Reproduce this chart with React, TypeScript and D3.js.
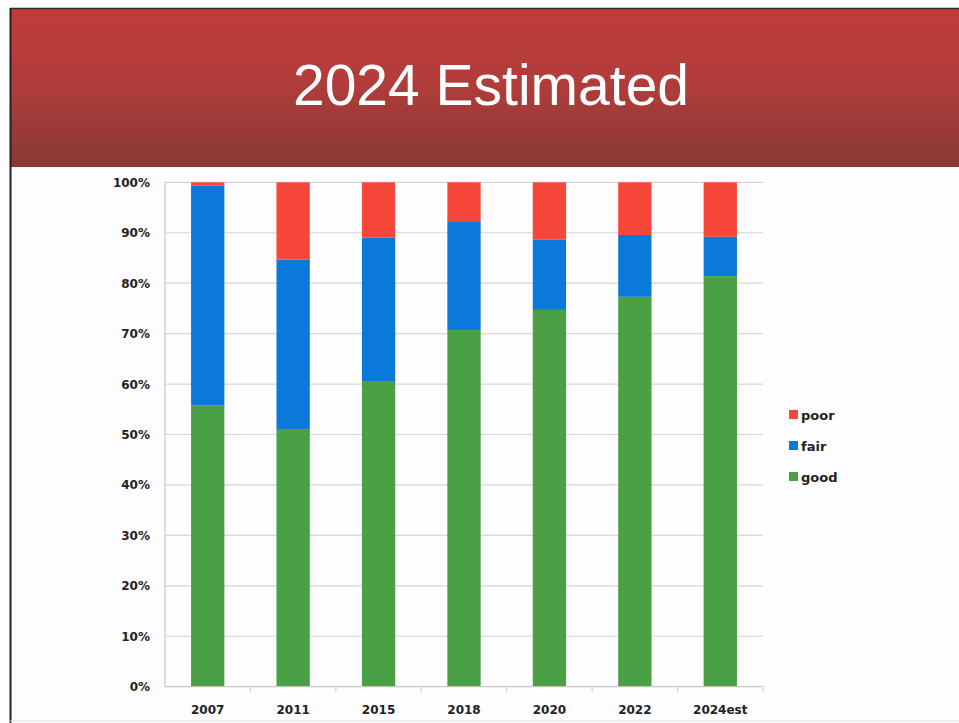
import React, { useEffect, useRef } from "react";
import * as d3 from "d3";

// chart values
const years = ["2007", "2011", "2015", "2018", "2020", "2022", "2024est"];
const good = [55.8, 51.1, 60.6, 70.7, 74.7, 77.3, 81.4];
const fair = [43.5, 33.6, 28.4, 21.6, 13.9, 12.25, 7.8];
const poor = [0.7, 15.3, 11.0, 7.7, 11.4, 10.45, 10.8];
const yTicks = [0, 10, 20, 30, 40, 50, 60, 70, 80, 90, 100];
const seriesNames = ["good", "fair", "poor"];
const legendOrder = ["poor", "fair", "good"];

const colors: Record<string, string> = {
  good: "#4aa042",
  fair: "#0a79d9",
  poor: "#f7473a",
};

export default function App() {
  const ref = useRef<SVGSVGElement>(null);

  useEffect(() => {
    const svg = d3.select(ref.current);
    svg.selectAll("*").remove();

    const width = 959;
    const height = 723;
    const left = 165;
    const right = 763;
    const top = 182.3;
    const bottom = 686.7;

    // background + header band
    svg.append("rect").attr("width", width).attr("height", height).attr("fill", "#fdfcfe");

    const defs = svg.append("defs");
    const grad = defs
      .append("linearGradient")
      .attr("id", "hdr")
      .attr("x1", 0)
      .attr("y1", 0)
      .attr("x2", 0)
      .attr("y2", 1);
    grad.append("stop").attr("offset", "0%").attr("stop-color", "#c13c3a");
    grad.append("stop").attr("offset", "45%").attr("stop-color", "#b23d3b");
    grad.append("stop").attr("offset", "100%").attr("stop-color", "#883935");

    svg.append("rect").attr("x", 10).attr("y", 8).attr("width", width - 10).attr("height", 159).attr("fill", "url(#hdr)");
    svg.append("line").attr("x1", 10).attr("x2", width).attr("y1", 8.5).attr("y2", 8.5).attr("stroke", "#3a2a2a").attr("stroke-width", 1.5);
    svg.append("line").attr("x1", 10.5).attr("x2", 10.5).attr("y1", 8).attr("y2", height).attr("stroke", "#222").attr("stroke-width", 2);
    svg.append("line").attr("x1", 10).attr("x2", width).attr("y1", 721).attr("y2", 721).attr("stroke", "#ddd").attr("stroke-width", 1);

    svg
      .append("text")
      .attr("x", 491)
      .attr("y", 105)
      .attr("text-anchor", "middle")
      .attr("fill", "#fff")
      .attr("font-family", "Liberation Sans, Arial, sans-serif")
      .attr("font-size", 57)
      .text("2024 Estimated");

    const x = d3.scaleBand().domain(years).range([left, right]).paddingInner(0.61).paddingOuter(0.305);
    const xEdge = d3.scaleBand().domain(years).range([left, right]);
    const y = d3.scaleLinear().domain([0, 100]).range([bottom, top]);

    // gridlines
    svg
      .append("g")
      .selectAll("line")
      .data(yTicks.filter((t) => t > 0))
      .join("line")
      .attr("x1", left)
      .attr("x2", right)
      .attr("y1", (d) => y(d))
      .attr("y2", (d) => y(d))
      .attr("stroke", "#d6d6d6")
      .attr("stroke-width", 1.2);

    // stacked bars
    const table = years.map((yr, i) => ({ year: yr, good: good[i], fair: fair[i], poor: poor[i] }));
    const stacked = d3.stack<any>().keys(seriesNames)(table);

    svg
      .append("g")
      .selectAll("g")
      .data(stacked)
      .join("g")
      .attr("fill", (s) => colors[s.key])
      .selectAll("rect")
      .data((s) => s)
      .join("rect")
      .attr("x", (d: any) => x(d.data.year)!)
      .attr("width", x.bandwidth())
      .attr("y", (d) => y(Math.min(d[1], 100)))
      .attr("height", (d) => y(d[0]) - y(Math.min(d[1], 100)));

    // axes
    svg.append("line").attr("x1", left).attr("x2", left).attr("y1", top).attr("y2", bottom).attr("stroke", "#c8c8c8").attr("stroke-width", 1.2);
    svg.append("line").attr("x1", left).attr("x2", right).attr("y1", bottom).attr("y2", bottom).attr("stroke", "#c8c8c8").attr("stroke-width", 1.2);
    svg
      .append("g")
      .selectAll("line")
      .data(years)
      .join("line")
      .attr("x1", (d) => xEdge(d)! + xEdge.bandwidth())
      .attr("x2", (d) => xEdge(d)! + xEdge.bandwidth())
      .attr("y1", bottom)
      .attr("y2", bottom + 5)
      .attr("stroke", "#c8c8c8");

    const font = "DejaVu Sans, Verdana, sans-serif";

    svg
      .append("g")
      .selectAll("text")
      .data(yTicks)
      .join("text")
      .attr("x", 150)
      .attr("y", (d) => y(d) + 4.5)
      .attr("text-anchor", "end")
      .attr("font-family", font)
      .attr("font-weight", "bold")
      .attr("font-size", 12)
      .attr("fill", "#222")
      .text((d) => `${d}%`);

    svg
      .append("g")
      .selectAll("text")
      .data(years)
      .join("text")
      .attr("x", (d) => xEdge(d)! + xEdge.bandwidth() / 2)
      .attr("y", 714)
      .attr("text-anchor", "middle")
      .attr("font-family", font)
      .attr("font-weight", "bold")
      .attr("font-size", 12)
      .attr("fill", "#222")
      .text((d) => d);

    // legend
    const legend = svg
      .append("g")
      .selectAll("g")
      .data(legendOrder)
      .join("g")
      .attr("transform", (d, i) => `translate(789,${410 + i * 31})`);
    legend
      .append("rect")
      .attr("width", 9)
      .attr("height", 9)
      .attr("fill", (d) => colors[d]);
    legend
      .append("text")
      .attr("x", 12)
      .attr("y", 9.5)
      .attr("font-family", font)
      .attr("font-weight", "bold")
      .attr("font-size", 13)
      .attr("fill", "#222")
      .text((d) => d);
  }, []);

  return (
    <svg
      ref={ref}
      width={959}
      height={723}
      style={{ position: "absolute", left: 0, top: 0, display: "block" }}
    />
  );
}
